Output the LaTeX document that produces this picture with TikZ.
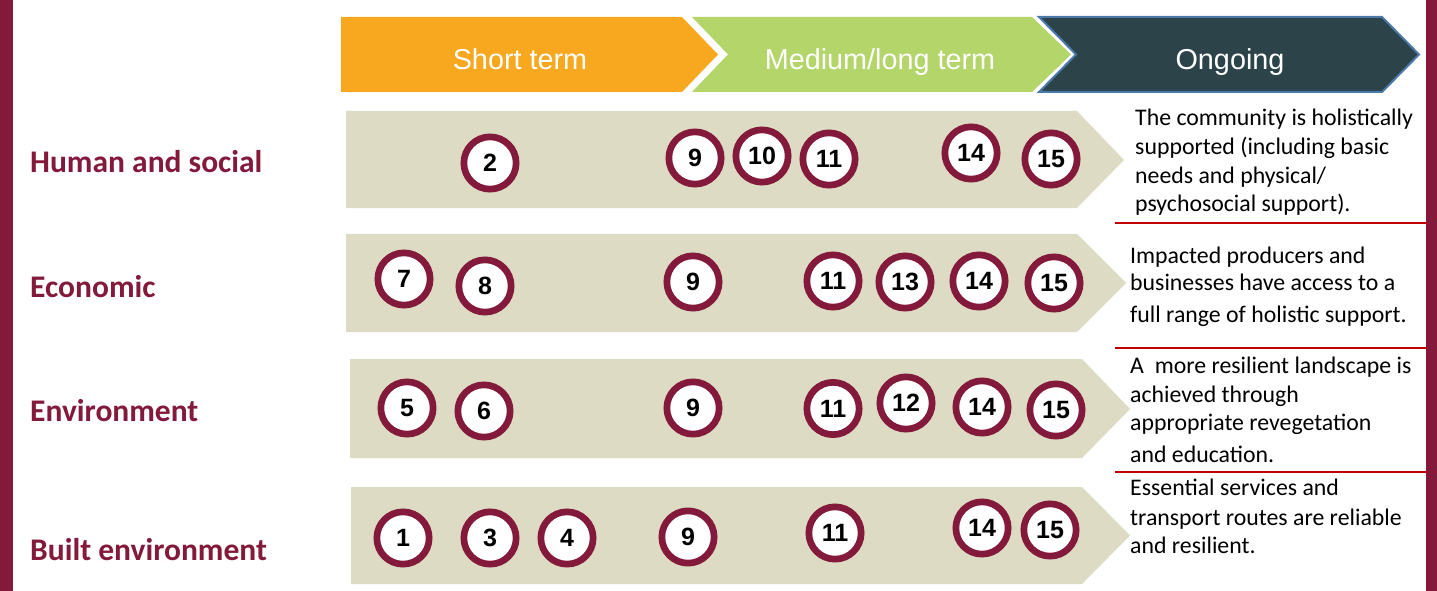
\documentclass[tikz,border=0pt]{standalone}
\usepackage{fontspec}
\setmainfont{Carlito}
\newfontfamily\arialf{Liberation Sans}
\definecolor{maroon}{HTML}{841A3B}
\definecolor{orangec}{HTML}{F8A81F}
\definecolor{greenc}{HTML}{B3D56A}
\definecolor{darkc}{HTML}{2C4349}
\definecolor{bluec}{HTML}{4A78A8}
\definecolor{bandc}{HTML}{DDDBC3}
\definecolor{redl}{HTML}{C00000}
\begin{document}
\begin{tikzpicture}[x=1pt,y=-1pt,
  num/.style={circle,draw=maroon,line width=6.7pt,fill=white,minimum size=52.3pt,inner sep=0pt,
    font=\arialf\bfseries\fontsize{25}{25}\selectfont},
  rowlabel/.style={anchor=base west,inner sep=0pt,text=maroon,font=\bfseries\fontsize{31.5}{31.5}\selectfont},
  phase/.style={anchor=base,inner sep=0pt,text=white,font=\arialf\fontsize{28.8}{28.8}\selectfont},
  outcome/.style={anchor=base west,inner sep=0pt,font=\fontsize{23.8}{23.8}\selectfont},
  band/.style={fill=bandc},
  sep/.style={draw=redl,line width=2pt}]
\useasboundingbox (0,0) rectangle (1437,591);
\fill[white] (0,0) rectangle (1437,591);
% side bars
\fill[maroon] (0,0) rectangle (13,591);
\fill[maroon] (1426,0) rectangle (1437,591);
% phase chevrons
\fill[orangec] (341,17) -- (682,17) -- (718,54.5) -- (682,92) -- (341,92) -- cycle;
\fill[greenc] (692,17) -- (1032,17) -- (1071,54.5) -- (1032,92) -- (692,92) -- (728,54.5) -- cycle;
\filldraw[fill=darkc,draw=bluec,line width=2pt] (1039,17) -- (1382,17) -- (1419,54.5) -- (1382,92) -- (1039,92) -- (1076,54.5) -- cycle;
\node[phase] (short) at (520,70) {Short term};
\node[phase] (medium) at (880,70) {Medium/long term};
\node[phase] (ongoing) at (1230,70) {Ongoing};
% bands
\fill[band] (346,111) -- (1077,111) -- (1124,160) -- (1077,208) -- (346,208) -- cycle;
\fill[band] (346,234) -- (1077,234) -- (1126,283) -- (1077,332) -- (346,332) -- cycle;
\fill[band] (350,359) -- (1082,359) -- (1130,409) -- (1082,458) -- (350,458) -- cycle;
\fill[band] (351,487) -- (1082,487) -- (1130,535.5) -- (1082,584) -- (351,584) -- cycle;
% row labels
\node[rowlabel] (lh) at (30,172) {Human and social};
\node[rowlabel] (le) at (30,297) {Economic};
\node[rowlabel] (lv) at (30,421) {Environment};
\node[rowlabel] (lb) at (30,560) {Built environment};
% row 1
\node[num] (h2) at (490,163) {2};
\node[num] (h9) at (695,158) {9};
\node[num] (h10) at (762,156) {10};
\node[num] (h11) at (829,159) {11};
\node[num] (h14) at (971,153) {14};
\node[num] (h15) at (1051,159) {15};
% row 2
\node[num] (e7) at (404,279) {7};
\node[num] (e8) at (485,286) {8};
\node[num] (e9) at (693,282) {9};
\node[num] (e11) at (833,281) {11};
\node[num] (e13) at (905,282) {13};
\node[num] (e14) at (979,281) {14};
\node[num] (e15) at (1054,283) {15};
% row 3
\node[num] (v5) at (407,408) {5};
\node[num] (v6) at (484,411) {6};
\node[num] (v9) at (693,408) {9};
\node[num] (v11) at (833,408.5) {11};
\node[num] (v12) at (906,403) {12};
\node[num] (v14) at (982,407) {14};
\node[num] (v15) at (1056,410) {15};
% row 4
\node[num] (b1) at (403,538) {1};
\node[num] (b3) at (490,538) {3};
\node[num] (b4) at (567,538) {4};
\node[num] (b9) at (688,537) {9};
\node[num] (b11) at (835,533) {11};
\node[num] (b14) at (982,528) {14};
\node[num] (b15) at (1050,530) {15};
% outcomes
\node[outcome] (o1a) at (1135,126) {The community is holistically};
\node[outcome] (o1b) at (1135,154) {supported (including basic};
\node[outcome] (o1c) at (1135,183) {needs and physical/};
\node[outcome] (o1d) at (1135,211) {psychosocial support).};
\node[outcome] (o2a) at (1130,263) {Impacted producers and};
\node[outcome] (o2b) at (1130,290) {businesses have access to a};
\node[outcome] (o2c) at (1130,322) {full range of holistic support.};
\node[outcome] (o3a) at (1130,373) {A\ \ more resilient landscape is};
\node[outcome] (o3b) at (1130,402) {achieved through};
\node[outcome] (o3c) at (1130,430) {appropriate revegetation};
\node[outcome] (o3d) at (1130,462) {and education.};
\node[outcome] (o4a) at (1130,495) {Essential services and};
\node[outcome] (o4b) at (1130,525) {transport routes are reliable};
\node[outcome] (o4c) at (1130,553) {and resilient.};
% separators
\coordinate (s1a) at (1115,223); \coordinate (s1b) at (1427,223);
\coordinate (s2a) at (1115,347.5); \coordinate (s2b) at (1427,347.5);
\coordinate (s3a) at (1115,472); \coordinate (s3b) at (1427,472);
\draw[sep] (s1a) -- (s1b);
\draw[sep] (s2a) -- (s2b);
\draw[sep] (s3a) -- (s3b);
\end{tikzpicture}
\end{document}
